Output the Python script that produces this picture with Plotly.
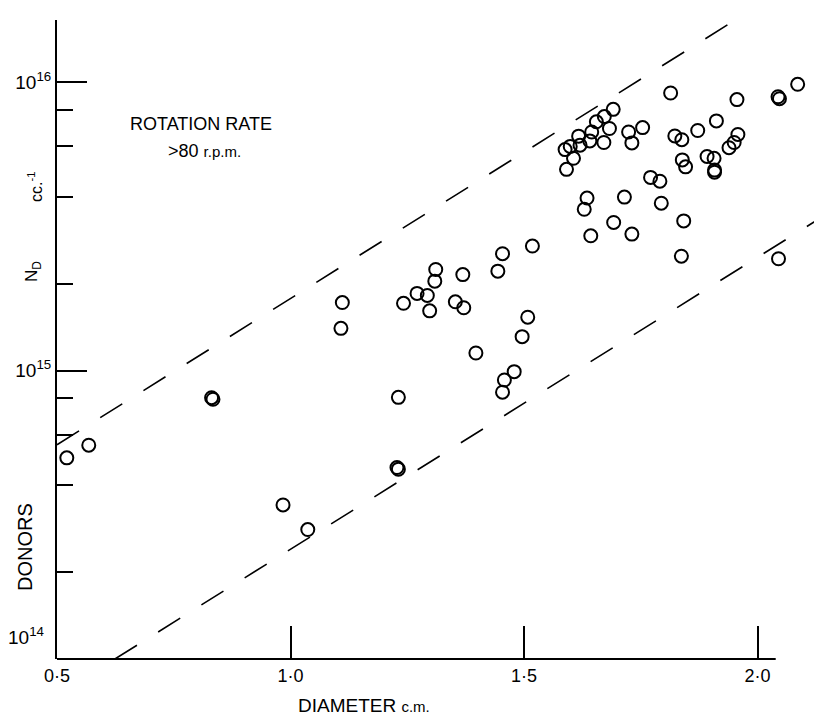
import plotly.graph_objects as go

# ---- data (diameter in cm, donor concentration N_D in cc^-1)
diameter_cm = [
    0.521, 0.568, 0.831, 0.834, 0.984, 1.037, 1.111, 1.108, 1.231, 1.228, 1.231,
    1.242, 1.271, 1.293, 1.298, 1.311, 1.309, 1.369, 1.353, 1.371, 1.397,
    1.444, 1.454, 1.518, 1.508, 1.496, 1.479, 1.458, 1.454,
    1.814, 1.956, 2.044, 2.047, 2.086,
    1.691, 1.672, 1.655, 1.683, 1.645, 1.617, 1.599, 1.588, 1.620, 1.641, 1.671,
    1.606, 1.591, 1.724, 1.754, 1.731,
    1.823, 1.838, 1.872, 1.912, 1.958, 1.950, 1.939, 1.839, 1.846, 1.892, 1.907,
    1.908, 1.908,
    1.771, 1.791, 1.635, 1.629, 1.715, 1.794, 1.692, 1.643, 1.731, 1.842, 1.837, 2.045,
]
donors_nd = [
    4.98e14, 5.51e14, 8.05e14, 7.95e14, 3.42e14, 2.81e14, 1.72e15, 1.40e15, 8.07e14, 4.61e14, 4.55e14,
    1.71e15, 1.85e15, 1.82e15, 1.61e15, 2.24e15, 2.04e15, 2.15e15, 1.73e15, 1.65e15, 1.15e15,
    2.21e15, 2.54e15, 2.70e15, 1.53e15, 1.31e15, 9.91e14, 9.27e14, 8.41e14,
    9.16e15, 8.69e15, 8.89e15, 8.75e15, 9.82e15,
    8.04e15, 7.59e15, 7.28e15, 6.90e15, 6.71e15, 6.49e15, 5.98e15, 5.83e15, 6.04e15, 6.25e15, 6.17e15,
    5.44e15, 4.98e15, 6.71e15, 6.95e15, 6.15e15,
    6.50e15, 6.31e15, 6.79e15, 7.33e15, 6.58e15, 6.17e15, 5.92e15, 5.37e15, 5.08e15, 5.52e15, 5.44e15,
    4.95e15, 4.87e15,
    4.67e15, 4.53e15, 3.96e15, 3.62e15, 3.99e15, 3.80e15, 3.26e15, 2.93e15, 2.97e15, 3.30e15, 2.49e15, 2.44e15,
]

# dashed bounding lines (end points)
upper_x = [0.5, 2.05]
upper_y = [5.53e14, 2.06e16]
lower_x = [0.624, 2.15]
lower_y = [1.0e14, 3.50e15]

x_tickvals = [0.5, 1.0, 1.5, 2.0]
x_ticktext = ["0·5", "1·0", "1·5", "2·0"]
y_tickvals = [1e14, 1e15, 1e16]
y_ticktext = ["", "10<sup>15</sup>", "10<sup>16</sup>"]
y_minor = [2e14, 4e14, 6e14, 8e14, 2e15, 4e15, 6e15, 8e15]
x_axis_end = 2.039

FONT = "Liberation Sans, Arial, sans-serif"
W, H = 814, 716
ML, MR, MT, MB = 57, 0, 20, 57
PW, PH = W - ML - MR, H - MT - MB


def px(xp):
    return (xp - ML) / PW


def py(yp):
    return (H - MB - yp) / PH


fig = go.Figure()

for lx, ly in ((upper_x, upper_y), (lower_x, lower_y)):
    fig.add_trace(go.Scatter(
        x=lx, y=ly, mode="lines",
        line=dict(color="black", width=1.6, dash="26px,25px"),
        hoverinfo="skip", showlegend=False,
    ))

fig.add_trace(go.Scatter(
    x=diameter_cm, y=donors_nd, mode="markers",
    marker=dict(symbol="circle", size=13, color="rgba(0,0,0,0)",
                line=dict(color="black", width=2)),
    showlegend=False, cliponaxis=False,
))

fig.update_layout(
    width=W, height=H,
    margin=dict(l=ML, r=MR, t=MT, b=MB, pad=0),
    paper_bgcolor="white", plot_bgcolor="white",
    font=dict(family=FONT, color="black"),
    xaxis=dict(
        range=[0.5, 0.5 + PW / 467.0],
        showgrid=False, zeroline=False, showline=False,
        tickmode="array", tickvals=x_tickvals, ticktext=x_ticktext,
        ticks="inside", ticklen=33, tickwidth=1.5, tickcolor="black",
        tickfont=dict(size=18, family=FONT), ticklabelstandoff=4,
    ),
    yaxis=dict(
        type="log", range=[14, 14 + PH / 288.5],
        showgrid=False, zeroline=False, showline=True, linecolor="black", linewidth=2,
        tickmode="array", tickvals=y_tickvals, ticktext=y_ticktext,
        ticks="inside", ticklen=30, tickwidth=1.8, tickcolor="black",
        tickfont=dict(size=19, family=FONT),
        minor=dict(tickvals=y_minor, ticks="inside", ticklen=16, tickwidth=1.8, tickcolor="black"),
    ),
    shapes=[dict(type="line", xref="x", yref="paper", x0=0.5, x1=x_axis_end, y0=0, y1=0,
                 line=dict(color="black", width=2))],
)

ann = [
    dict(text="ROTATION RATE", x=px(128), y=py(124), xanchor="left", yanchor="middle",
         font=dict(size=18)),
    dict(text="&gt;80 <span style='font-size:15px'>r.p.m.</span>", x=px(166), y=py(151),
         xanchor="left", yanchor="middle", font=dict(size=18)),
    dict(text="DIAMETER <span style='font-size:15px'>c.m.</span>", x=px(364), y=py(705),
         xanchor="center", yanchor="middle", font=dict(size=19)),
    dict(text="DONORS", x=px(25), y=py(547), textangle=-90, xanchor="center", yanchor="middle",
         font=dict(size=20)),
    dict(text="N<sub>D</sub>", x=px(33), y=py(272), textangle=-90, xanchor="center", yanchor="middle",
         font=dict(size=17)),
    dict(text="cc.<sup>-1</sup>", x=px(35), y=py(187), textangle=-90, xanchor="center", yanchor="middle",
         font=dict(size=16)),
    dict(text="10<sup>14</sup>", x=px(46), y=py(636), xanchor="right", yanchor="middle",
         font=dict(size=19)),
]
for a in ann:
    a.update(xref="paper", yref="paper", showarrow=False)
fig.update_layout(annotations=ann)

fig.write_html("out.html")
